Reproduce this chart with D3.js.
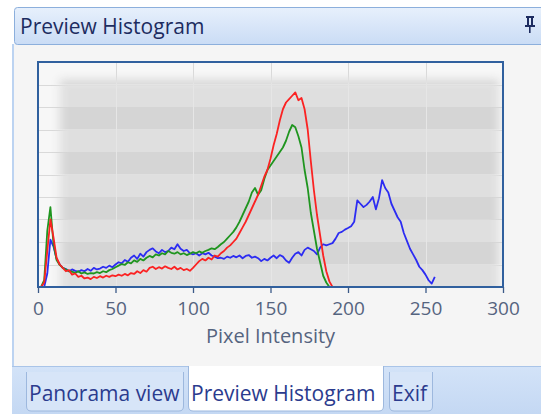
<!DOCTYPE html>
<html>
<head>
<meta charset="utf-8">
<script src="https://cdn.jsdelivr.net/npm/d3@7"></script>
<style>
  html, body { margin: 0; padding: 0; background: #ffffff; }
  svg { display: block; font-family: "Open Sans", "DejaVu Sans", sans-serif; }
</style>
</head>
<body>
<svg id="panel" width="541" height="414"></svg>
<script>
// Histogram bins: one value every 2 intensity levels, starting at 0.
const binStep = 2;
const xTicks = [0, 50, 100, 150, 200, 250, 300];
const yGrid = [0, 100, 200, 300, 400, 500, 600, 700, 800, 900, 1000];

const redCounts = [
  0, 0, 20, 160, 300, 220, 130, 100, 85, 70,
  75, 55, 60, 45, 50, 38, 42, 35, 45, 40,
  48, 42, 50, 45, 52, 48, 55, 50, 58, 52,
  62, 58, 70, 62, 75, 68, 85, 90, 80, 88,
  82, 92, 85, 80, 90, 78, 85, 75, 80, 72,
  85, 100, 115, 125, 118, 130, 122, 140, 135, 150,
  160, 175, 185, 200, 215, 240, 265, 290, 320, 350,
  380, 410, 450, 490, 520, 570, 630, 680, 740, 790,
  820, 835, 850, 865, 830, 840, 790, 700, 560, 430,
  320, 230, 140, 70, 25, 0
];

const greenCounts = [
  0, 0, 30, 250, 355, 190, 120, 98, 85, 78,
  70, 68, 62, 70, 60, 65, 58, 62, 60, 66,
  62, 70, 66, 75, 80, 88, 95, 102, 98, 110,
  105, 118, 112, 125, 118, 130, 138, 132, 145, 140,
  150, 145, 160, 152, 148, 155, 145, 150, 142, 148,
  155, 150, 158, 152, 160, 165, 172, 168, 178, 190,
  200, 215, 230, 245, 265, 290, 320, 350, 380, 420,
  440, 410, 430, 480, 520, 540, 560, 580, 600, 620,
  650, 690, 720, 710, 670, 620, 520, 440, 330, 250,
  170, 110, 50, 20, 0
];

const blueCounts = [
  0, 0, 0, 60, 210, 180, 125, 100, 85, 80,
  70, 78, 72, 68, 75, 70, 80, 72, 85, 78,
  82, 90, 85, 95, 88, 100, 110, 105, 120, 112,
  130, 140, 125, 148, 135, 155, 165, 172, 158, 150,
  165, 155, 160, 175, 168, 190, 170, 160, 165, 150,
  145, 150, 140, 150, 145, 152, 140, 135, 128, 130,
  125, 135, 130, 138, 132, 140, 128, 138, 142, 130,
  135, 128, 115, 125, 118, 130, 140, 128, 142, 135,
  118, 108, 130, 148, 155, 140, 165, 175, 168, 160,
  145, 175, 190, 185, 190, 195, 215, 240, 245, 255,
  262, 270, 290, 385, 370, 355, 365, 380, 400, 345,
  395, 475, 440, 420, 370, 340, 310, 290, 240, 205,
  170, 145, 120, 90, 75, 55, 30, 15, 45
];

const seriesList = [
  { name: "Blue",  counts: blueCounts,  color: "#2c2cf2" },
  { name: "Green", counts: greenCounts, color: "#1f951f" },
  { name: "Red",   counts: redCounts,   color: "#fb2222" }
];

const svg = d3.select("#panel");
const defs = svg.append("defs");

// ---------- panel chrome ----------
const headGrad = defs.append("linearGradient").attr("id", "headGrad")
  .attr("x1", 0).attr("y1", 0).attr("x2", 0).attr("y2", 1);
headGrad.append("stop").attr("offset", "0%").attr("stop-color", "#e7f0fc");
headGrad.append("stop").attr("offset", "100%").attr("stop-color", "#cadcf5");

const stripGrad = defs.append("linearGradient").attr("id", "stripGrad")
  .attr("x1", 0).attr("y1", 0).attr("x2", 0).attr("y2", 1);
stripGrad.append("stop").attr("offset", "0%").attr("stop-color", "#d3e3f8");
stripGrad.append("stop").attr("offset", "100%").attr("stop-color", "#c4d8f3");

// body of the docked pane
svg.append("rect").attr("x", 12).attr("y", 44).attr("width", 529).attr("height", 323)
  .attr("fill", "#f5f5f5");
svg.append("line").attr("x1", 13).attr("x2", 13).attr("y1", 44).attr("y2", 367)
  .attr("stroke", "#bcd3f1").attr("stroke-width", 2);

// caption bar
svg.append("rect").attr("x", 14.5).attr("y", 7.5).attr("width", 540).attr("height", 37)
  .attr("rx", 3).attr("fill", "url(#headGrad)").attr("stroke", "#8cafdc");
svg.append("text").attr("x", 20).attr("y", 34)
  .attr("font-size", 21).attr("fill", "#1d2c60")
  .text("Preview Histogram");

// push-pin glyph
const pin = svg.append("g").attr("fill", "#1d2c60");
pin.append("rect").attr("x", 526).attr("y", 16).attr("width", 8).attr("height", 2);
pin.append("rect").attr("x", 527).attr("y", 16).attr("width", 2).attr("height", 10);
pin.append("rect").attr("x", 531).attr("y", 16).attr("width", 2).attr("height", 10);
pin.append("rect").attr("x", 525).attr("y", 25).attr("width", 10).attr("height", 2);
pin.append("rect").attr("x", 529).attr("y", 27).attr("width", 1.6).attr("height", 6);

// tab strip
svg.append("rect").attr("x", 12).attr("y", 366).attr("width", 529).attr("height", 48)
  .attr("fill", "url(#stripGrad)");
svg.append("line").attr("x1", 12).attr("x2", 541).attr("y1", 366.5).attr("y2", 366.5)
  .attr("stroke", "#a9c4e8");

const tabs = [
  { label: "Panorama view",     x0: 26,  x1: 184, active: false },
  { label: "Preview Histogram", x0: 188, x1: 384, active: true },
  { label: "Exif",              x0: 389, x1: 433, active: false }
];
const tabPath = (t) => {
  const top = t.active ? 366 : 372, bot = 411, r = 5;
  return `M${t.x0 + 0.5},${top} V${bot - r} Q${t.x0 + 0.5},${bot} ${t.x0 + r},${bot}` +
         ` H${t.x1 - r} Q${t.x1 - 0.5},${bot} ${t.x1 - 0.5},${bot - r} V${top}`;
};
const tabG = svg.append("g").selectAll("g").data(tabs).join("g");
tabG.append("path").attr("d", tabPath)
  .attr("fill", d => d.active ? "#ffffff" : "#d7e5f8")
  .attr("stroke", "#9db8de");
tabG.append("text")
  .attr("x", d => d.x0 + 3).attr("y", 401)
  .attr("font-size", 21).attr("fill", "#2b3b8e")
  .text(d => d.label);

// ---------- chart ----------
const plot = { left: 38, right: 503, top: 62, bottom: 287 };
const x = d3.scaleLinear().domain([0, 300]).range([plot.left, plot.right]);
const y = d3.scaleLinear().domain([0, 1000]).range([plot.bottom, plot.top]);

defs.append("clipPath").attr("id", "plotClip")
  .append("rect").attr("x", plot.left).attr("y", plot.top)
  .attr("width", plot.right - plot.left).attr("height", plot.bottom - plot.top);

defs.append("filter").attr("id", "soft")
  .attr("x", "-20%").attr("y", "-20%").attr("width", "140%").attr("height", "140%")
  .append("feGaussianBlur").attr("stdDeviation", 5);

defs.append("mask").attr("id", "fadeMask")
  .attr("maskUnits", "userSpaceOnUse")
  .attr("x", 0).attr("y", 0).attr("width", 541).attr("height", 414)
  .append("rect").attr("x", 60).attr("y", 80).attr("width", 439).attr("height", 240)
  .attr("fill", "#ffffff").attr("filter", "url(#soft)");

const chart = svg.append("g");
chart.append("rect").attr("x", plot.left).attr("y", plot.top)
  .attr("width", plot.right - plot.left).attr("height", plot.bottom - plot.top)
  .attr("fill", "#f7f7f7");

// grid under the shaded field
const grid = chart.append("g").attr("stroke", "#d9d9d9").attr("stroke-width", 1);
grid.selectAll("line.h").data(yGrid.slice(1, -1)).join("line").attr("class", "h")
  .attr("x1", plot.left).attr("x2", plot.right)
  .attr("y1", d => Math.round(y(d)) + 0.5).attr("y2", d => Math.round(y(d)) + 0.5);
grid.selectAll("line.v").data(xTicks.slice(1, -1)).join("line").attr("class", "v")
  .attr("y1", plot.top).attr("y2", plot.bottom)
  .attr("x1", d => Math.round(x(d)) + 0.5).attr("x2", d => Math.round(x(d)) + 0.5);

// shaded, banded field with soft edges
const field = chart.append("g").attr("clip-path", "url(#plotClip)")
  .append("g").attr("mask", "url(#fadeMask)");
const bands = d3.pairs(yGrid);
field.selectAll("rect").data(bands).join("rect")
  .attr("x", plot.left).attr("width", plot.right - plot.left)
  .attr("y", d => y(d[1])).attr("height", d => y(d[0]) - y(d[1]))
  .attr("fill", (d, i) => i % 2 ? "#d5d5d5" : "#dfdfdf");
field.selectAll("line").data(xTicks.slice(1, -1)).join("line")
  .attr("y1", plot.top).attr("y2", plot.bottom)
  .attr("x1", d => Math.round(x(d)) + 0.5).attr("x2", d => Math.round(x(d)) + 0.5)
  .attr("stroke", "#e6e6e6");

// histogram traces
const line = d3.line()
  .x((d, i) => x(i * binStep))
  .y(d => y(d));
chart.append("g").attr("clip-path", "url(#plotClip)")
  .selectAll("path").data(seriesList).join("path")
  .attr("d", d => line(d.counts))
  .attr("fill", "none")
  .attr("stroke", d => d.color)
  .attr("stroke-width", 1.8)
  .attr("stroke-linejoin", "round");

// frame
chart.append("rect").attr("x", plot.left).attr("y", plot.top)
  .attr("width", plot.right - plot.left).attr("height", plot.bottom - plot.top)
  .attr("fill", "none").attr("stroke", "#30609e").attr("stroke-width", 2);

// bottom axis
const axis = chart.append("g").attr("transform", `translate(0,${plot.bottom})`)
  .call(d3.axisBottom(x).tickValues(xTicks).tickSize(6).tickPadding(9));
axis.select(".domain").remove();
axis.selectAll(".tick line").attr("stroke", "#3b5a88").attr("stroke-width", 1.3);
axis.selectAll(".tick text")
  .attr("font-family", "\"Open Sans\", sans-serif")
  .attr("font-size", 19).attr("fill", "#55647f");

chart.append("text")
  .attr("x", (plot.left + plot.right) / 2).attr("y", 343)
  .attr("text-anchor", "middle")
  .attr("font-size", 20).attr("fill", "#55647f")
  .text("Pixel Intensity");
</script>
</body>
</html>
